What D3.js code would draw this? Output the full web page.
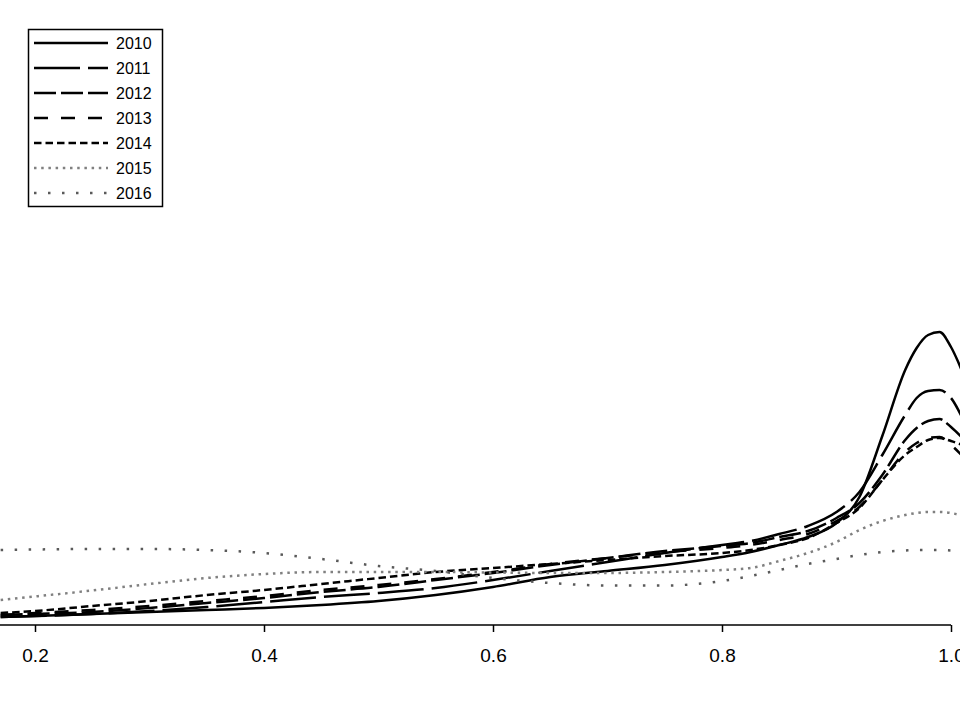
<!DOCTYPE html>
<html>
<head>
<meta charset="utf-8">
<script src="https://cdn.jsdelivr.net/npm/d3@7"></script>
<style>
  html, body { margin: 0; padding: 0; background: #fff; }
  svg { display: block; }
  text { font-family: "Liberation Sans", Arial, sans-serif; fill: #000; }
</style>
</head>
<body>
<svg id="chart" width="960" height="720"></svg>
<script>
// ---- data ----
const xValues = [0.17,0.2,0.25,0.3,0.35,0.4,0.45,0.5,0.55,0.6,0.65,0.7,0.75,0.8,0.825,0.85,0.875,0.9,0.92,0.94,0.96,0.97,0.98,0.99,1.0,1.01];
const years = ["2010","2011","2012","2013","2014","2015","2016"];
const d2010 = [0.08,0.09,0.11,0.13,0.15,0.17,0.20,0.24,0.30,0.38,0.48,0.54,0.60,0.68,0.73,0.80,0.88,1.02,1.28,1.89,2.55,2.77,2.90,2.93,2.78,2.53];
const d2011 = [0.08,0.09,0.11,0.14,0.18,0.23,0.28,0.32,0.37,0.45,0.54,0.63,0.72,0.80,0.84,0.91,0.99,1.13,1.33,1.70,2.10,2.27,2.34,2.35,2.27,2.07];
const d2012 = [0.10,0.11,0.13,0.17,0.22,0.27,0.33,0.38,0.45,0.52,0.60,0.67,0.74,0.79,0.82,0.88,0.94,1.07,1.22,1.50,1.85,1.97,2.04,2.06,1.98,1.87];
const d2013 = [0.10,0.12,0.15,0.19,0.24,0.29,0.35,0.40,0.46,0.53,0.61,0.67,0.73,0.77,0.80,0.85,0.91,1.04,1.18,1.45,1.73,1.82,1.87,1.88,1.80,1.69];
const d2014 = [0.12,0.14,0.19,0.24,0.30,0.35,0.41,0.47,0.53,0.57,0.61,0.65,0.69,0.72,0.75,0.80,0.87,1.02,1.17,1.45,1.70,1.78,1.85,1.87,1.84,1.80];
const d2015 = [0.25,0.285,0.345,0.41,0.47,0.51,0.53,0.53,0.53,0.525,0.52,0.52,0.53,0.55,0.57,0.64,0.72,0.83,0.95,1.04,1.10,1.12,1.13,1.13,1.12,1.09];
const d2016 = [0.75,0.755,0.76,0.76,0.75,0.72,0.66,0.59,0.54,0.47,0.42,0.395,0.395,0.44,0.49,0.55,0.61,0.66,0.70,0.73,0.745,0.75,0.75,0.75,0.745,0.735];
const xTicks = [0.2,0.4,0.6,0.8,1.0];

const seriesValues = [d2010,d2011,d2012,d2013,d2014,d2015,d2016];
const dashes = ["none","46,8","22,5","14,13","7.5,4","2.5,4.7","2.5,11.5"];
const colors = ["#000","#000","#000","#000","#000","#808080","#5a5a5a"];

// ---- scales ----
const svg = d3.select("#chart");
const x = d3.scaleLinear().domain([0.2, 1.0]).range([35, 951]);
const y = d3.scaleLinear().domain([0, 3.2]).range([625, 305]);

// ---- curves ----
const line = d3.line()
  .x((d,i) => x(xValues[i]))
  .y(d => y(d))
  .curve(d3.curveMonotoneX);

const g = svg.append("g");
seriesValues.forEach((vals, k) => {
  g.append("path")
    .attr("d", line(vals))
    .attr("fill", "none")
    .attr("stroke", colors[k])
    .attr("stroke-width", 2.5)
    .attr("stroke-dasharray", dashes[k]);
});

// ---- axis ----
const axisG = svg.append("g").attr("transform", "translate(0,625)");
axisG.append("line")
  .attr("x1", 0).attr("x2", x(1.0))
  .attr("y1", 0).attr("y2", 0)
  .attr("stroke", "#000").attr("stroke-width", 1.5);
const axis = d3.axisBottom(x).tickValues(xTicks).tickFormat(d3.format(".1f")).tickSize(7).tickSizeOuter(0);
const ax = svg.append("g").attr("transform", "translate(0,625)").call(axis);
ax.select(".domain").remove();
ax.selectAll(".tick line").attr("stroke", "#000").attr("stroke-width", 1.5);
ax.selectAll(".tick text")
  .attr("font-size", 19)
  .attr("font-family", "'Liberation Sans', Arial, sans-serif")
  .attr("fill", "#000")
  .attr("dy", null)
  .attr("y", 37);

// ---- legend ----
const leg = svg.append("g");
leg.append("rect")
  .attr("x", 28.5).attr("y", 29.5)
  .attr("width", 134).attr("height", 177)
  .attr("fill", "#fff").attr("stroke", "#000").attr("stroke-width", 1.5);
years.forEach((yr, k) => {
  const ly = 43 + k * 25;
  leg.append("line")
    .attr("x1", 34).attr("x2", 108)
    .attr("y1", ly).attr("y2", ly)
    .attr("stroke", colors[k])
    .attr("stroke-width", 2.5)
    .attr("stroke-dasharray", dashes[k]);
  leg.append("text")
    .attr("x", 116).attr("y", ly + 5.8)
    .attr("font-size", 16)
    .text(yr);
});
</script>
</body>
</html>
